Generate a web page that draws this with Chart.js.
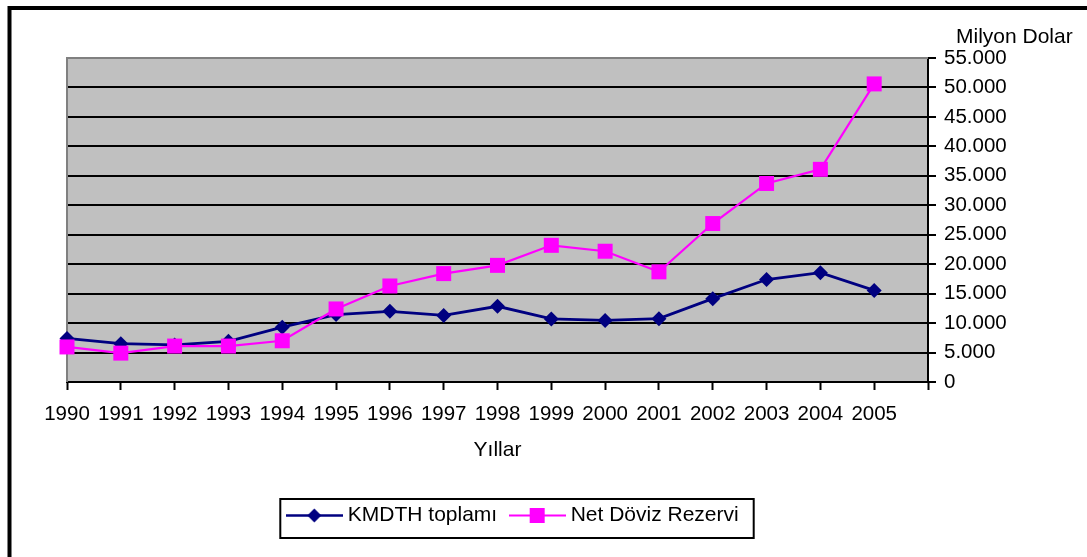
<!DOCTYPE html>
<html><head><meta charset="utf-8">
<script src="https://cdn.jsdelivr.net/npm/chart.js@4"></script>
<style>html,body{margin:0;padding:0;background:#fff}#wrap{width:1087px;height:557px;position:relative}</style>
</head><body><div id="wrap"><canvas id="c" width="1087" height="557"></canvas></div>
<script>
const years = ['1990','1991','1992','1993','1994','1995','1996','1997','1998','1999','2000','2001','2002','2003','2004','2005',''];
const kmdth = [7400, 6500, 6300, 6900, 9300, 11450, 12000, 11300, 12850, 10700, 10450, 10750, 14150, 17400, 18550, 15550];
const netDoviz = [5950, 4900, 6100, 6100, 7000, 12400, 16300, 18400, 19800, 23200, 22200, 18700, 26900, 33700, 36100, 50600];
const seriesNames = ['KMDTH toplamı', 'Net Döviz Rezervi'];
const yUnit = 'Milyon Dolar';
const xTitle = 'Yıllar';
const yMax = 55000, yStep = 5000;

const FONT = '"Liberation Sans", Arial, sans-serif';
const NAVY = '#000080', MAG = '#FF00FF';

function legendImg(color, style, lw) {
  const c = document.createElement('canvas'); c.width = 57; c.height = 21;
  const g = c.getContext('2d');
  g.strokeStyle = color; g.lineWidth = lw;
  g.beginPath(); g.moveTo(0, 10.5); g.lineTo(57, 10.5); g.stroke();
  g.fillStyle = color;
  if (style === 'diamond') {
    g.beginPath(); g.moveTo(28.5, 3.5); g.lineTo(35.5, 10.5); g.lineTo(28.5, 17.5); g.lineTo(21.5, 10.5); g.closePath(); g.fill();
  } else {
    g.fillRect(21, 3, 15, 15);
  }
  return c;
}
const legendImgs = [legendImg(NAVY, 'diamond', 2.5), legendImg(MAG, 'square', 2)];

Chart.defaults.color = '#000';
Chart.defaults.font.family = FONT;

const decor = {
  id: 'decor',
  beforeDraw(chart) {
    const {ctx, chartArea: a} = chart;
    ctx.save();
    ctx.fillStyle = '#fff'; ctx.fillRect(0, 0, chart.width, chart.height);
    ctx.strokeStyle = '#000'; ctx.lineWidth = 4;
    ctx.beginPath(); ctx.moveTo(9.5, chart.height + 5); ctx.lineTo(9.5, 8); ctx.lineTo(chart.width + 5, 8); ctx.stroke();
    ctx.fillStyle = '#C0C0C0'; ctx.fillRect(a.left, a.top, a.right - a.left, a.bottom - a.top);
    ctx.restore();
  },
  beforeDatasetsDraw(chart) {
    const {ctx, chartArea: a} = chart;
    ctx.save();
    ctx.strokeStyle = '#808080'; ctx.lineWidth = 2;
    ctx.beginPath(); ctx.moveTo(a.left, a.bottom); ctx.lineTo(a.left, a.top); ctx.lineTo(a.right, a.top); ctx.stroke();
    ctx.restore();
  },
  afterDraw(chart) {
    const {ctx} = chart;
    ctx.save();
    ctx.fillStyle = '#000'; ctx.font = '21px ' + FONT; ctx.textBaseline = 'middle'; ctx.textAlign = 'left';
    ctx.fillText(yUnit, chart.scales.y.left + 28, 37);
    const hb = chart.legend.legendHitBoxes;
    if (hb && hb.length) {
      const l = hb[0].left - 11, r = hb[hb.length - 1].left + hb[hb.length - 1].width + 15;
      const t = hb[0].top - 6, b = hb[0].top + 33;
      ctx.strokeStyle = '#000'; ctx.lineWidth = 2;
      ctx.strokeRect(l, t, r - l, b - t);
    }
    ctx.restore();
  }
};

new Chart(document.getElementById('c'), {
  type: 'line',
  data: {
    labels: years,
    datasets: [
      { label: seriesNames[0], data: kmdth, borderColor: NAVY, backgroundColor: NAVY, borderWidth: 2.8,
        pointStyle: 'rectRot', pointRadius: 7.5, pointHoverRadius: 7.5, pointBorderWidth: 0, order: 2, clip: false, tension: 0 },
      { label: seriesNames[1], data: netDoviz, borderColor: MAG, backgroundColor: MAG, borderWidth: 2.2,
        pointStyle: 'rect', pointRadius: 10.6, pointHoverRadius: 10.6, pointBorderWidth: 0, order: 1, clip: false, tension: 0 }
    ]
  },
  options: {
    responsive: false, animation: false, events: [],
    layout: { padding: { left: 67, right: 124, top: 58, bottom: 21 } },
    plugins: {
      tooltip: { enabled: false },
      legend: {
        position: 'bottom',
        labels: {
          usePointStyle: true, pointStyleWidth: 46, padding: 17,
          font: { size: 21, family: FONT }, color: '#000',
          generateLabels(chart) {
            const items = Chart.defaults.plugins.legend.labels.generateLabels(chart);
            items.forEach(it => { it.pointStyle = legendImgs[it.datasetIndex]; });
            return items.sort((a, b) => a.datasetIndex - b.datasetIndex);
          }
        }
      }
    },
    scales: {
      x: {
        offset: false,
        grid: { drawOnChartArea: false, drawTicks: true, tickLength: 8, tickColor: '#000', tickWidth: 2 },
        border: { color: '#000', width: 2 },
        ticks: { autoSkip: false, maxRotation: 0, padding: 12, font: { size: 20.5, family: FONT }, color: '#000' },
        title: { display: true, text: xTitle, font: { size: 21, family: FONT }, color: '#000', padding: { top: 0, bottom: 25 } },
        afterFit(s) { s.height = 106; }
      },
      y: {
        position: 'right', min: 0, max: yMax,
        grid: { color: c => (c.tick && c.tick.value === yMax) ? '#808080' : '#000', lineWidth: 2,
                tickLength: 8, tickColor: '#000', tickWidth: 2 },
        border: { color: '#000', width: 2 },
        ticks: { stepSize: yStep, padding: 8, font: { size: 20.5, family: FONT }, color: '#000',
                 callback: v => v === 0 ? '0' : (v / 1000).toFixed(3) },
        afterFit(s) { s.width = 35; s._computeLabelArea = () => undefined; }
      }
    }
  },
  plugins: [decor]
});
</script></body></html>
